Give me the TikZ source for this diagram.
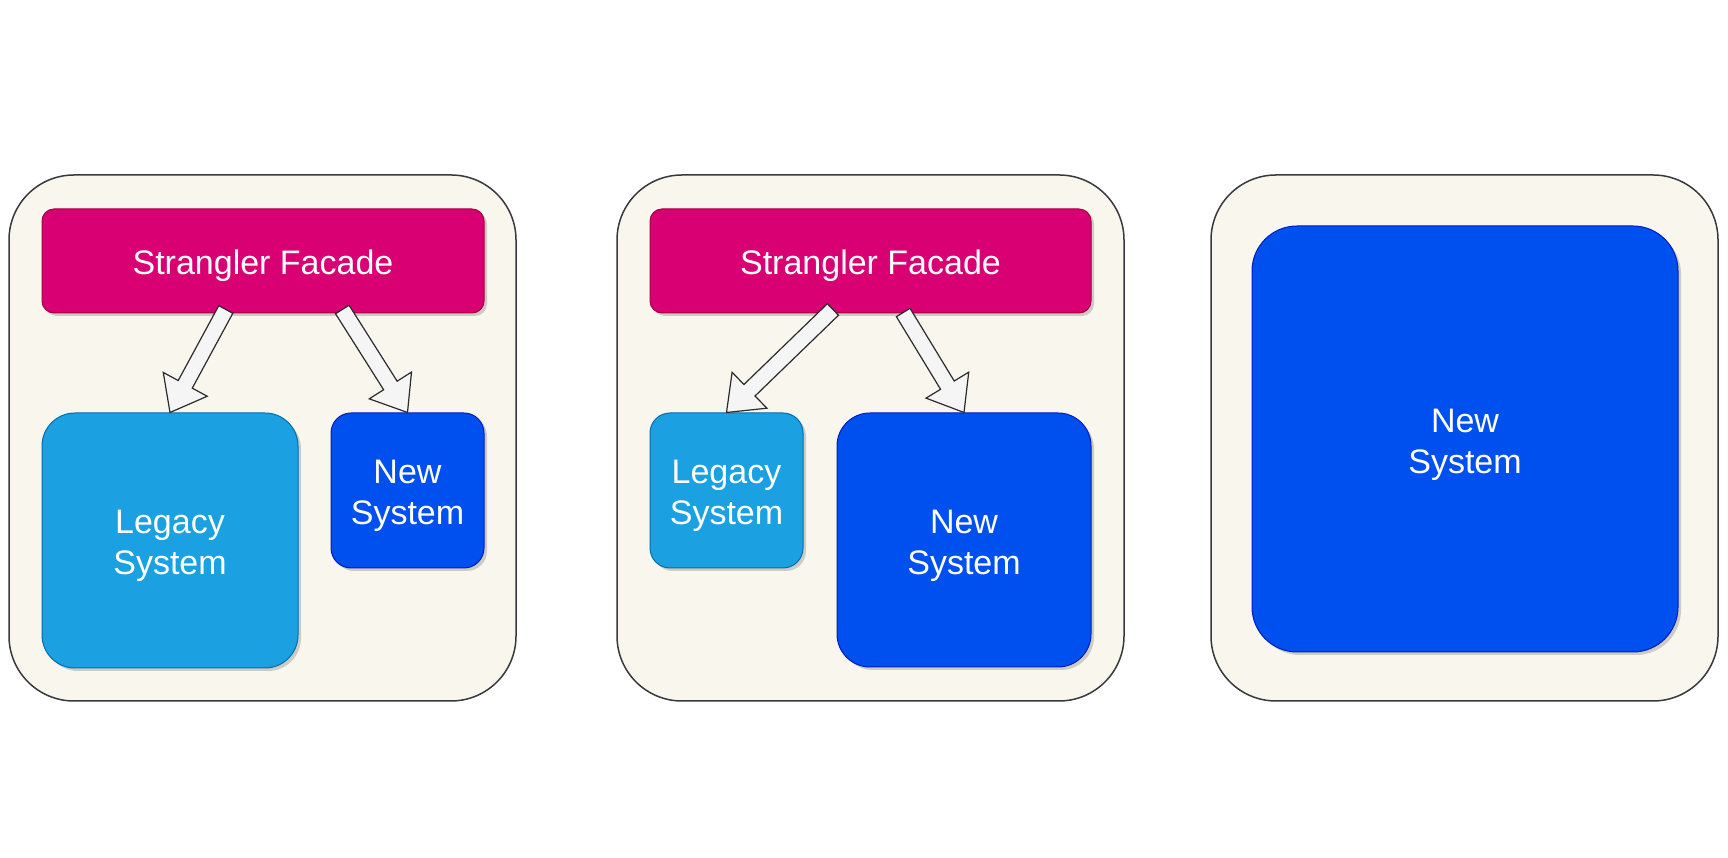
\documentclass[tikz,border=0pt]{standalone}
\usepackage{fontspec}
\setmainfont{Liberation Sans}
\usetikzlibrary{calc,shadows}
\definecolor{panelfill}{HTML}{F9F7ED}
\definecolor{panelline}{HTML}{36393D}
\definecolor{facadefill}{HTML}{D80073}
\definecolor{facadeline}{HTML}{A50040}
\definecolor{legacyfill}{HTML}{1BA1E2}
\definecolor{legacyline}{HTML}{006EAF}
\definecolor{newfill}{HTML}{0050EF}
\definecolor{newline}{HTML}{001DBC}
\definecolor{arrowfill}{HTML}{F5F5F5}
\definecolor{arrowline}{HTML}{2B2B2B}
\newcommand{\lbl}[1]{\raisebox{-5.5pt}[\height][\depth]{\begin{tabular}{@{}c@{}}#1\end{tabular}}}
\tikzset{
  panel/.style={draw=panelline, fill=panelfill, line width=1.5pt, rounded corners=65pt},
  boxbase/.style={inner sep=0pt, text=white,
    font=\fontsize{34}{41}\selectfont, line width=1pt,
    drop shadow={shadow xshift=3pt, shadow yshift=-3pt, opacity=0.3, fill=black!60}},
  facade/.style={boxbase, draw=facadeline, fill=facadefill, rounded corners=12pt},
  legacy/.style={boxbase, draw=legacyline, fill=legacyfill},
  newsys/.style={boxbase, draw=newline, fill=newfill},
  flexarrow/.style={draw=arrowline, fill=arrowfill, line width=1.2pt, line join=miter},
}
\newcommand{\flexarr}[2]{%
  \coordinate (hb) at ($(#2)!32pt!(#1)$);
  \draw[flexarrow] ($(#1)!8pt!90:(#2)$) -- ($(hb)!8pt!-90:(#1)$) -- ($(hb)!25pt!-90:(#1)$)
    -- (#2) -- ($(hb)!25pt!90:(#1)$) -- ($(hb)!8pt!90:(#1)$) -- ($(#1)!8pt!-90:(#2)$) -- cycle;}
\begin{document}
\begin{tikzpicture}[x=1pt,y=1pt]
\useasboundingbox[fill=white] (0,0) rectangle (1728,858);
% panels (y = 858 - pixel y)
\draw[panel] (9,157) rectangle (516,683);
\draw[panel] (617,157) rectangle (1124,683);
\draw[panel] (1211,157) rectangle (1718,683);
% panel 1
\node[facade, minimum width=442pt, minimum height=104pt] (facade1) at (263,597) {\lbl{Strangler Facade}};
\node[legacy, rounded corners=33pt, minimum width=256pt, minimum height=255pt] (legacy1) at (170,317.5) {\lbl{Legacy\\System}};
\node[newsys, rounded corners=20pt, minimum width=153pt, minimum height=155pt] (new1) at (407.5,367.5) {\lbl{New\\System}};
% panel 2
\node[facade, minimum width=441pt, minimum height=104pt] (facade2) at (870.5,597) {\lbl{Strangler Facade}};
\node[legacy, rounded corners=20pt, minimum width=153pt, minimum height=155pt] (legacy2) at (726.5,367.5) {\lbl{Legacy\\System}};
\node[newsys, rounded corners=33pt, minimum width=254pt, minimum height=254pt] (new2) at (964,318) {\lbl{New\\System}};
% panel 3
\node[newsys, rounded corners=45pt, minimum width=426pt, minimum height=426pt] (new3) at (1465,419) {\lbl{New\\System}};
% arrow tails on the facades
\coordinate (t1) at ($(facade1.south west)!0.416!(facade1.south east)+(0,4)$);
\coordinate (t2) at ($(facade1.south west)!0.679!(facade1.south east)+(0,4)$);
\coordinate (t3) at ($(facade2.south west)!0.415!(facade2.south east)+(0,4)$);
\coordinate (t4) at ($(facade2.south west)!0.574!(facade2.south east)+(0,1)$);
\flexarr{t1}{legacy1.north}
\flexarr{t2}{new1.north}
\flexarr{t3}{legacy2.north}
\flexarr{t4}{new2.north}
\end{tikzpicture}
\end{document}
